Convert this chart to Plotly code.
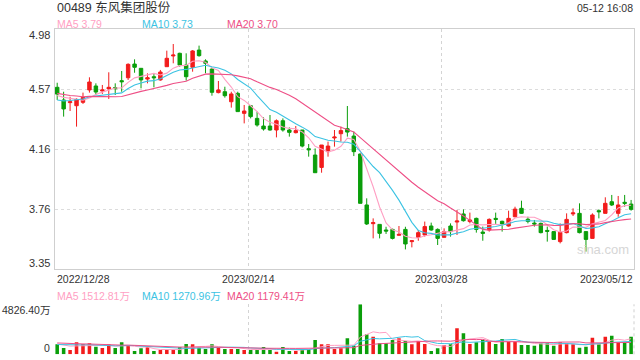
import plotly.graph_objects as go
import pandas as pd

title_text = "00489 东风集团股份"
time_text = "05-12 16:08"

opens = [4.586,4.500,4.482,4.461,4.484,4.568,4.595,4.561,4.575,4.584,
         4.631,4.651,4.744,4.715,4.642,4.658,4.636,4.726,4.799,4.817,
         4.737,4.722,4.839,4.765,4.710,4.550,4.556,4.488,4.545,4.409,
         4.461,4.375,4.323,4.323,4.296,4.359,4.296,4.278,4.296,4.169,
         4.126,4.042,4.149,4.242,4.271,4.305,4.255,4.133,3.787,3.660,
         3.655,3.617,3.621,3.581,3.621,3.538,3.567,3.583,3.644,3.621,
         3.567,3.644,3.671,3.726,3.674,3.696,3.603,3.617,3.696,3.676,
         3.644,3.707,3.764,3.690,3.664,3.662,3.614,3.606,3.538,3.599,
         3.726,3.730,3.606,3.560,3.748,3.730,3.809,3.730,3.805,3.793]
highs = [4.617,4.556,4.522,4.511,4.550,4.654,4.613,4.602,4.688,4.613,
         4.697,4.749,4.776,4.715,4.681,4.681,4.704,4.835,4.880,4.821,
         4.817,4.839,4.869,4.776,4.715,4.629,4.590,4.556,4.556,4.466,
         4.466,4.421,4.382,4.398,4.368,4.375,4.314,4.323,4.296,4.201,
         4.171,4.194,4.217,4.296,4.319,4.459,4.285,4.138,3.832,3.696,
         3.655,3.639,3.626,3.644,3.639,3.549,3.617,3.674,3.667,3.628,
         3.628,3.662,3.753,3.757,3.735,3.701,3.640,3.696,3.735,3.680,
         3.748,3.775,3.816,3.707,3.685,3.667,3.640,3.608,3.662,3.730,
         3.764,3.798,3.606,3.730,3.757,3.839,3.855,3.848,3.855,3.821]
lows = [4.500,4.387,4.425,4.319,4.473,4.550,4.534,4.541,4.507,4.534,
        4.556,4.636,4.685,4.579,4.613,4.586,4.631,4.726,4.749,4.726,
        4.631,4.692,4.794,4.681,4.529,4.545,4.516,4.448,4.421,4.341,
        4.375,4.319,4.292,4.292,4.246,4.285,4.251,4.273,4.178,4.115,
        4.006,4.006,4.115,4.183,4.217,4.251,4.119,3.798,3.651,3.560,
        3.560,3.590,3.553,3.578,3.485,3.499,3.544,3.572,3.612,3.515,
        3.567,3.572,3.583,3.674,3.662,3.599,3.544,3.606,3.658,3.606,
        3.640,3.703,3.726,3.662,3.640,3.594,3.538,3.549,3.526,3.594,
        3.712,3.594,3.470,3.560,3.696,3.730,3.780,3.707,3.775,3.748]
closes = [4.540,4.439,4.488,4.504,4.518,4.622,4.554,4.568,4.586,4.577,
          4.624,4.742,4.722,4.636,4.651,4.651,4.690,4.783,4.805,4.737,
          4.658,4.833,4.801,4.749,4.552,4.568,4.529,4.541,4.421,4.425,
          4.387,4.330,4.303,4.296,4.359,4.296,4.280,4.292,4.187,4.162,
          4.006,4.194,4.187,4.248,4.292,4.282,4.149,3.798,3.658,3.667,
          3.594,3.610,3.560,3.587,3.522,3.544,3.599,3.640,3.617,3.560,
          3.606,3.606,3.678,3.680,3.685,3.621,3.594,3.689,3.689,3.658,
          3.696,3.759,3.730,3.675,3.658,3.599,3.608,3.553,3.601,3.689,
          3.733,3.599,3.553,3.719,3.741,3.798,3.787,3.787,3.798,3.757]
# closes before the first visible day (only used for the moving averages)
pre_closes = [4.62,4.60,4.58,4.61,4.57,4.59,4.56,4.60,4.58,4.59,
              4.50,4.46,4.45,4.47,4.47,4.50,4.52,4.55,4.54]

volumes = [965,611,418,1158,998,1062,740,611,965,611,
           1158,837,322,579,676,322,418,418,418,708,
           998,965,644,515,965,644,515,515,515,418,
           418,418,708,418,257,708,322,322,483,483,
           1384,965,965,515,579,1545,837,4826.4,1931,1706,
           1062,1062,1384,1545,1287,965,1287,998,322,579,
           901,965,2510,2027,998,1158,1384,1223,998,1480,
           1287,1287,901,901,837,1062,1062,837,1158,1062,
           965,644,740,1609,965,1706,1802,1158,1158,1706]
pre_volumes = [1300,1250,1100,1400,1200,1350,1150,1300,1250,1200,
               800,900,850,950,900,1100,1000,1050,900]

price_ticks = [4.98, 4.57, 4.16, 3.76, 3.35]
date_labels = ["2022/12/28", "2023/02/14", "2023/03/28", "2023/05/12"]
date_pos = [0, 29.67, 59.57, 89]
ma_price_labels = ["MA5 3.79", "MA10 3.73", "MA20 3.70"]
ma_vol_labels = ["MA5 1512.81万", "MA10 1270.96万", "MA20 1179.41万"]
vol_tick_labels = ["4826.40万", "0"]

RED = "#f21c1c"
GREEN = "#0a9e0a"
MA_COLORS = ["#ff9fc3", "#3cc3e3", "#ee4f86"]
W, H = 640, 360

n = len(closes)
idx = list(range(n))

def ma(series, pre, k):
    s = pd.Series(pre + series)
    return s.rolling(k).mean().tolist()[len(pre):]

fig = go.Figure()
fig.add_trace(go.Candlestick(
    x=idx, open=opens, high=highs, low=lows, close=closes,
    increasing=dict(line=dict(color=RED, width=1), fillcolor=RED),
    decreasing=dict(line=dict(color=GREEN, width=1), fillcolor=GREEN),
    whiskerwidth=0, xaxis="x", yaxis="y", hoverinfo="skip", showlegend=False))
for k, c in zip([5, 10, 20], MA_COLORS):
    fig.add_trace(go.Scatter(x=idx, y=ma(closes, pre_closes, k), mode="lines",
                             line=dict(color=c, width=1.1), xaxis="x", yaxis="y",
                             hoverinfo="skip", showlegend=False))

vcolors = [RED if c > o else GREEN for o, c in zip(opens, closes)]
fig.add_trace(go.Bar(x=idx, y=volumes, marker=dict(color=vcolors, line=dict(width=0)),
                     width=0.55, xaxis="x2", yaxis="y2", hoverinfo="skip", showlegend=False))
for k, c in zip([5, 10, 20], MA_COLORS):
    fig.add_trace(go.Scatter(x=idx, y=ma(volumes, pre_volumes, k), mode="lines",
                             line=dict(color=c, width=1), xaxis="x2", yaxis="y2",
                             hoverinfo="skip", showlegend=False))

def px(x):
    return x / W

def py(y):
    return 1 - y / H

xr = [-0.34, 89.45]
pmin, pmax = 3.35, 4.98
grid_vals = [pmin + (pmax - pmin) * k / 4 for k in (1, 2, 3)]

fig.update_layout(
    width=W, height=H, margin=dict(l=0, r=0, t=0, b=0),
    paper_bgcolor="white", plot_bgcolor="white", boxgap=0.24,
    font=dict(family="Arial, Liberation Sans, Noto Sans CJK SC", color="#333333"),
    xaxis=dict(domain=[px(55), px(634)], range=xr, anchor="y",
               rangeslider=dict(visible=False), tickvals=[date_pos[1], date_pos[2]],
               showticklabels=False, ticks="", showgrid=True, gridcolor="#d4d4d4",
               griddash="3px,3px", gridwidth=1, zeroline=False,
               showline=True, linecolor="#cfcfcf", linewidth=1, mirror=True),
    yaxis=dict(domain=[py(269.3), py(29.3)], range=[pmin, pmax], anchor="x",
               tickvals=grid_vals, showticklabels=False, ticks="", showgrid=True,
               gridcolor="#dcdcdc", griddash="dot", gridwidth=1, zeroline=False,
               showline=True, linecolor="#cfcfcf", linewidth=1, mirror=True),
    xaxis2=dict(domain=[px(55), px(634)], range=xr, anchor="y2",
                tickvals=[date_pos[1], date_pos[2]], showticklabels=False, ticks="",
                showgrid=True, gridcolor="#d4d4d4", griddash="dot", zeroline=False,
                showline=False),
    yaxis2=dict(domain=[py(354.3), py(304.3)], range=[0, max(volumes)], anchor="x2",
                tickvals=[max(volumes)], showticklabels=False, ticks="", showgrid=True,
                gridcolor="#cfcfcf", griddash="dot", zeroline=False, showline=False),
)

# right border of the volume panel
fig.add_shape(type="line", xref="paper", yref="paper", x0=px(634), x1=px(634),
              y0=py(354.3), y1=py(304.3), line=dict(color="#cfcfcf", width=1, dash="dot"))

ann = []
ann.append(dict(text=title_text, x=px(55), y=py(7.5), xanchor="left", yanchor="middle",
                font=dict(size=12.5, color="#333333")))
ann.append(dict(text=time_text, x=px(634.5), y=py(7.5), xanchor="right", yanchor="middle",
                font=dict(size=10.5, color="#333333")))
for lab, xx, c in zip(ma_price_labels, [55, 140, 225], MA_COLORS):
    ann.append(dict(text=lab, x=px(xx), y=py(24), xanchor="left", yanchor="middle",
                    font=dict(size=10.5, color=c)))
for lab, xx, c in zip(ma_vol_labels, [55, 140, 225], MA_COLORS):
    ann.append(dict(text=lab, x=px(xx), y=py(296), xanchor="left", yanchor="middle",
                    font=dict(size=10.5, color=c)))
# price tick labels
tick_y = [pmax] + grid_vals[::-1] + [pmin]
shifts = [-5.7, 0, 0, 0, 6.6]
for lab, v, s in zip(price_ticks, tick_y, shifts):
    ann.append(dict(text=f"{lab:.2f}", x=px(51.5), xref="paper", y=v, yref="y",
                    xanchor="right", yanchor="middle", yshift=s,
                    font=dict(size=11, color="#333333")))
# date labels
anchors = ["left", "center", "center", "right"]
for lab, pos, a in zip(date_labels, date_pos, anchors):
    xx = {"left": px(55), "right": px(634.5)}.get(a)
    if xx is None:
        ann.append(dict(text=lab, x=pos, xref="x", y=py(278.5), yref="paper",
                        xanchor="center", yanchor="middle", font=dict(size=10.5, color="#333333")))
    else:
        ann.append(dict(text=lab, x=xx, xref="paper", y=py(278.5), yref="paper",
                        xanchor=a, yanchor="middle", font=dict(size=10.5, color="#333333")))
# volume tick labels
for lab, yy in zip(vol_tick_labels, [310, 347.7]):
    ann.append(dict(text=lab, x=px(51.5), y=py(yy), xanchor="right", yanchor="middle",
                    font=dict(size=10.5, color="#333333")))
# watermark
ann.append(dict(text="sina.com", x=px(602.5), y=py(249), xanchor="center", yanchor="middle",
                font=dict(size=13, color="#d6d6d6")))

for a in ann:
    a.setdefault("xref", "paper")
    a.setdefault("yref", "paper")
    a["showarrow"] = False
fig.update_layout(annotations=ann)

fig.write_html("out.html", config={"displayModeBar": False})
